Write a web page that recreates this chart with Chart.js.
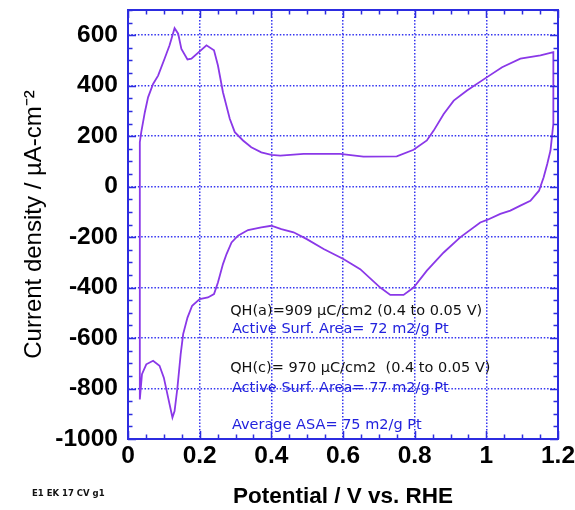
<!DOCTYPE html>
<html><head><meta charset="utf-8">
<script src="https://cdn.jsdelivr.net/npm/chart.js@4.4.1/dist/chart.umd.min.js"></script>
<style>html,body{margin:0;padding:0;background:#fff}#wrap{width:575px;height:510px;position:relative}</style>
</head><body><div id="wrap"><canvas id="c"></canvas></div>
<script>
// Potential (V vs RHE) and current density (µA/cm2) along the CV loop
const potential = [0.033,0.033,0.037,0.047,0.056,0.070,0.084,0.102,0.116,0.130,0.140,0.149,0.166,0.177,0.219,0.240,0.251,0.265,0.284,0.298,0.321,0.344,0.372,0.400,0.425,0.490,0.592,0.657,0.750,0.797,0.834,0.853,0.881,0.909,0.946,1.002,1.044,1.095,1.151,1.187,
  1.187,1.183,1.179,1.170,1.160,1.147,1.123,1.095,1.067,1.039,1.002,0.983,0.927,0.881,0.834,0.797,0.769,0.732,0.704,0.648,0.601,0.546,0.499,0.462,0.428,0.400,0.372,0.335,0.307,0.289,0.275,0.265,0.251,0.240,0.223,0.200,0.179,0.166,0.154,0.147,0.138,0.130,0.124,0.112,0.100,0.088,0.070,0.051,0.039,0.035,0.033];
const current = [-843,176,216,295,354,407,440,507,560,628,606,546,504,507,560,540,480,374,269,216,183,156,136,126,123,130,130,119,120,146,183,222,288,341,381,434,473,507,520,533,
  249,196,143,90,37,-16,-56,-75,-95,-108,-132,-142,-201,-261,-333,-400,-429,-429,-400,-327,-287,-247,-208,-181,-168,-155,-161,-172,-194,-221,-267,-307,-380,-426,-439,-446,-472,-519,-584,-664,-796,-889,-915,-836,-757,-710,-690,-704,-743,-809,-843];
const xTickLabels = ['0','0.2','0.4','0.6','0.8','1','1.2'];
const yTickLabels = ['-1000','-800','-600','-400','-200','0','200','400','600'];
const noteTexts = ['QH(a)=909 \u00b5C/cm2 (0.4 to 0.05 V)','Active Surf. Area= 72 m2/g Pt','QH(c)= 970 \u00b5C/cm2  (0.4 to 0.05 V)','Active Surf. Area= 77 m2/g Pt','Average ASA= 75 m2/g Pt'];
const noteColors = ['#111111','#2222dd','#111111','#2222dd','#2222dd'];
const noteX = [0.285,0.29,0.285,0.29,0.29];
const noteY = [-492,-567,-718,-798,-944];

const BLUE = '#2c2ce0';
const points = potential.map((x,i)=>({x:x,y:current[i]}));

const framePlugin = {
  id:'frame',
  afterDraw(chart){
    const ctx = chart.ctx, a = chart.chartArea, xs = chart.scales.x, ys = chart.scales.y;
    ctx.save();
    ctx.strokeStyle = BLUE; ctx.lineWidth = 1.5;
    ctx.beginPath();
    for (let v=0; v<=1.2001; v+=0.05){
      const p = Math.round(xs.getPixelForValue(v))+0.5;
      const major = Math.abs(v/0.2 - Math.round(v/0.2))<1e-6;
      const L = major?8:4.5;
      ctx.moveTo(p,a.bottom); ctx.lineTo(p,a.bottom-L);
      ctx.moveTo(p,a.top); ctx.lineTo(p,a.top+L);
    }
    for (let v=-1000; v<=700; v+=50){
      const p = Math.round(ys.getPixelForValue(v))+0.5;
      const major = v%200===0;
      const L = major?8:4.5;
      ctx.moveTo(a.left,p); ctx.lineTo(a.left+L,p);
      ctx.moveTo(a.right,p); ctx.lineTo(a.right-L,p);
    }
    ctx.stroke();
    ctx.lineWidth = 2;
    ctx.strokeRect(a.left,a.top,a.right-a.left,a.bottom-a.top);
    // annotations
    ctx.font = '14.5px "DejaVu Sans"';
    ctx.textBaseline = 'middle'; ctx.textAlign = 'left';
    noteTexts.forEach((t,i)=>{
      ctx.fillStyle = noteColors[i];
      ctx.fillText(t, xs.getPixelForValue(noteX[i]), ys.getPixelForValue(noteY[i]));
    });
    ctx.font = 'bold 8.5px "DejaVu Sans"';
    ctx.fillStyle = '#111';
    ctx.fillText('E1 EK 17 CV g1', 32, 494);
    ctx.restore();
  }
};

new Chart(document.getElementById('c'), {
  type:'scatter',
  data:{datasets:[{data:points, showLine:true, borderColor:'#8a38e8', borderWidth:1.8, pointRadius:0, tension:0, fill:false}]},
  options:{
    responsive:true, maintainAspectRatio:false, animation:false, devicePixelRatio:1,
    layout:{padding:{top:10,right:17,left:0,bottom:0}},
    plugins:{legend:{display:false}, tooltip:{enabled:false}},
    scales:{
      x:{type:'linear', min:0, max:1.2,
        afterFit(s){ s.height = 71; s.paddingLeft = 0; s.paddingRight = 0; },
        ticks:{stepSize:0.2, padding:3, color:'#000', font:{family:'"Liberation Sans", Arial', size:24.5, weight:'bold'},
          callback(v){ const i = Math.round(v/0.2); return Math.abs(v-i*0.2)<1e-6 ? xTickLabels[i] : ''; }},
        grid:{color:'#3535f0', lineWidth:1.5, drawTicks:false},
        border:{display:false, dash:[1.5,1.8]},
        title:{display:true, text:'Potential / V vs. RHE', color:'#000', font:{family:'"Liberation Sans", Arial', size:22.5, weight:'bold'}, padding:{top:0,bottom:0}}
      },
      y:{type:'linear', min:-1000, max:700,
        afterFit(s){ s.width = 128; s.paddingTop = 0; s.paddingBottom = 0; },
        ticks:{stepSize:200, includeBounds:false, padding:10, color:'#000', font:{family:'"Liberation Sans", Arial', size:24.5, weight:'bold'},
          callback(v){ const i = Math.round((v+1000)/200); return (v+1000)%200===0 ? yTickLabels[i] : ''; }},
        grid:{color:'#3535f0', lineWidth:1.5, drawTicks:false},
        border:{display:false, dash:[1.5,1.8]},
        title:{display:true, text:'Current density / \u00b5A-cm\u207b\u00b2', color:'#000', font:{family:'"Liberation Sans", Arial', size:24}, padding:{top:20,bottom:0}}
      }
    }
  },
  plugins:[framePlugin]
});
</script></body></html>
